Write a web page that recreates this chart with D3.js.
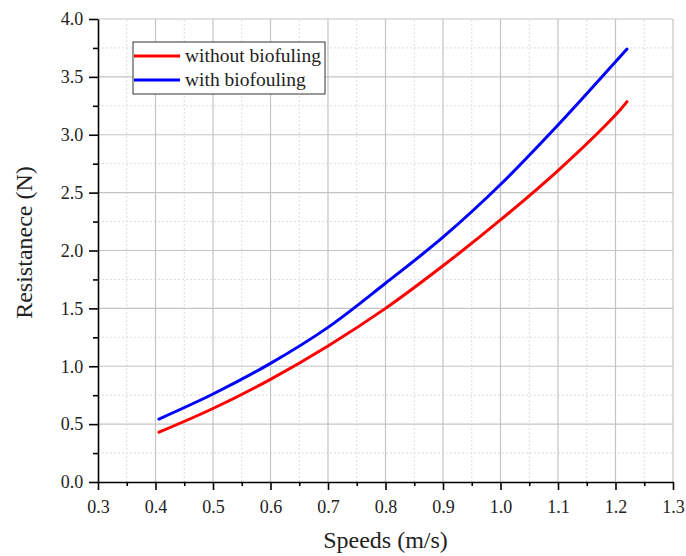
<!DOCTYPE html>
<html>
<head>
<meta charset="utf-8">
<script src="https://cdn.jsdelivr.net/npm/d3@7"></script>
<style>
  body { margin: 0; background: #fff; }
  svg text { font-family: "Liberation Serif", "Times New Roman", serif; fill: #222; }
</style>
</head>
<body>
<svg id="chart" width="686" height="556"></svg>
<script>
// speeds (m/s) and resistance (N)
const speeds = [0.406, 0.5, 0.6, 0.7, 0.8, 0.9, 1.0, 1.1, 1.2, 1.22];
const withoutBio = [0.43, 0.635, 0.887, 1.175, 1.50, 1.868, 2.264, 2.69, 3.17, 3.286];
const withBio = [0.544, 0.76, 1.025, 1.336, 1.717, 2.115, 2.57, 3.084, 3.63, 3.74];

const seriesNames = ["without biofuling", "with biofouling"];
const seriesColors = ["#ff0000", "#0000ff"];

const xTicks = [0.3, 0.4, 0.5, 0.6, 0.7, 0.8, 0.9, 1.0, 1.1, 1.2, 1.3];
const yTicks = [0, 0.5, 1.0, 1.5, 2.0, 2.5, 3.0, 3.5, 4.0];

const svg = d3.select("#chart");
const margin = { left: 98, right: 13, top: 19, bottom: 74 };
const width = 686, height = 556;

const x = d3.scaleLinear().domain([0.3, 1.3]).range([margin.left, width - margin.right]);
const y = d3.scaleLinear().domain([0, 4]).range([height - margin.bottom, margin.top]);

// minor values halfway between majors
const xMinor = d3.range(0.35, 1.3, 0.1);
const yMinor = d3.range(0.25, 4.0, 0.5);

// grid
const grid = svg.append("g");
grid.selectAll(".xm").data(xMinor).join("line")
  .attr("x1", d => x(d)).attr("x2", d => x(d))
  .attr("y1", y(0)).attr("y2", y(4))
  .attr("stroke", "#dcdcdc").attr("stroke-dasharray", "2,2").attr("stroke-width", 1);
grid.selectAll(".ym").data(yMinor).join("line")
  .attr("x1", x(0.3)).attr("x2", x(1.3))
  .attr("y1", d => y(d)).attr("y2", d => y(d))
  .attr("stroke", "#dcdcdc").attr("stroke-dasharray", "2,2").attr("stroke-width", 1);
grid.selectAll(".xg").data(xTicks.slice(1)).join("line")
  .attr("x1", d => x(d)).attr("x2", d => x(d))
  .attr("y1", y(0)).attr("y2", y(4))
  .attr("stroke", "#c4c4c4").attr("stroke-width", 1.2);
grid.selectAll(".yg").data(yTicks.slice(1)).join("line")
  .attr("x1", x(0.3)).attr("x2", x(1.3))
  .attr("y1", d => y(d)).attr("y2", d => y(d))
  .attr("stroke", "#c4c4c4").attr("stroke-width", 1.2);

// axes
const xAxis = svg.append("g").attr("transform", `translate(0,${y(0)})`)
  .call(d3.axisBottom(x).tickValues(xTicks).tickFormat(d3.format(".1f")).tickSize(8).tickSizeOuter(0));
const xMinorAxis = svg.append("g").attr("transform", `translate(0,${y(0)})`)
  .call(d3.axisBottom(x).tickValues(xMinor).tickFormat("").tickSize(4).tickSizeOuter(0));
const yAxis = svg.append("g").attr("transform", `translate(${x(0.3)},0)`)
  .call(d3.axisLeft(y).tickValues(yTicks).tickFormat(d3.format(".1f")).tickSize(9).tickSizeOuter(0));
const yMinorAxis = svg.append("g").attr("transform", `translate(${x(0.3)},0)`)
  .call(d3.axisLeft(y).tickValues(yMinor).tickFormat("").tickSize(5).tickSizeOuter(0));

[xAxis, xMinorAxis, yAxis, yMinorAxis].forEach(g => {
  g.selectAll("path, line").attr("stroke", "#000").attr("stroke-width", 1.6);
});
xMinorAxis.select("path").remove();
yMinorAxis.select("path").remove();
xAxis.selectAll("text").attr("font-size", 18).attr("dy", "1.1em").attr("fill", "#222");
yAxis.selectAll("text").attr("font-size", 18).attr("dx", "-0.15em").attr("fill", "#222");

// axis titles
svg.append("text")
  .attr("x", (x(0.3) + x(1.3)) / 2).attr("y", 548)
  .attr("text-anchor", "middle").attr("font-size", 24)
  .text("Speeds (m/s)");
svg.append("text")
  .attr("transform", `translate(24,${(y(0) + y(4)) / 2 - 8}) rotate(-90)`)
  .attr("text-anchor", "middle").attr("dy", "0.35em").attr("font-size", 24)
  .text("Resistanece (N)");

// lines
const line = d3.line().x(d => x(d[0])).y(d => y(d[1])).curve(d3.curveCatmullRom.alpha(0.5));
[withoutBio, withBio].forEach((vals, i) => {
  svg.append("path")
    .datum(speeds.map((s, j) => [s, vals[j]]))
    .attr("fill", "none")
    .attr("stroke", seriesColors[i])
    .attr("stroke-width", 3)
    .attr("stroke-linecap", "round")
    .attr("d", line);
});

// legend
const legend = svg.append("g");
legend.append("rect")
  .attr("x", 133).attr("y", 42).attr("width", 192).attr("height", 52)
  .attr("fill", "#fff").attr("stroke", "#333").attr("stroke-width", 1);
seriesNames.forEach((name, i) => {
  const ly = 56 + i * 24;
  legend.append("line")
    .attr("x1", 134).attr("x2", 180).attr("y1", ly).attr("y2", ly)
    .attr("stroke", seriesColors[i]).attr("stroke-width", 3);
  legend.append("text")
    .attr("x", 185).attr("y", ly + 6).attr("font-size", 19.5)
    .text(name);
});
</script>
</body>
</html>
